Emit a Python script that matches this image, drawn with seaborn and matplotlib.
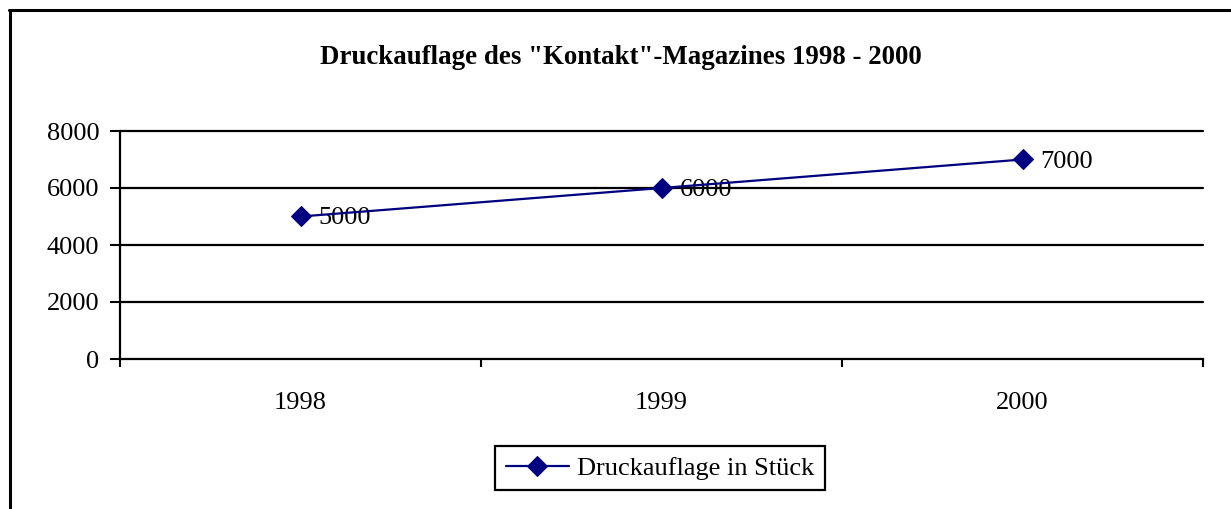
import pandas as pd
import matplotlib.pyplot as plt
import seaborn as sns
from matplotlib.lines import Line2D

#Chart data
years = ["1998", "1999", "2000"]
auflage = [5000, 6000, 7000]
series_name = "Druckauflage in Stück"
y_ticks = [0, 2000, 4000, 6000, 8000]

df = pd.DataFrame({"Jahr": years, "Auflage": auflage})

sns.set_style("white")
plt.rcParams['font.family'] = ['Liberation Serif', 'DejaVu Serif']
plt.rcParams['text.color'] = 'black'
plt.rcParams['xtick.color'] = 'black'
plt.rcParams['ytick.color'] = 'black'

W, H = 1231, 509
fig = plt.figure(figsize=(W / 100, H / 100), dpi=100)
ax = fig.add_axes([120 / W, 1 - 359 / H, 1083 / W, 228 / H])

x_pos = list(range(len(years)))
df["x"] = x_pos
sns.lineplot(data=df, x="x", y="Auflage", ax=ax, color="#000080", lw=1.6,
             marker="D", markersize=10, markeredgecolor="#000080", label=series_name, zorder=5)

#data labels
for xv, yv in zip(x_pos, auflage):
    ax.annotate(str(yv), (xv, yv), xytext=(18, -2), textcoords="offset pixels",
                ha="left", va="center", fontsize=19, color="black")

ax.set_xlim(-0.5, len(years) - 0.5)
ax.set_ylim(0, 8000)
ax.set_yticks(y_ticks)
ax.set_yticklabels([str(t) for t in y_ticks], fontsize=19)
ax.set_xticks(x_pos)
ax.set_xticklabels(years, fontsize=19)
ax.set_xticks([i - 0.5 for i in range(len(years) + 1)], minor=True)
ax.tick_params(axis="x", which="major", length=0, pad=24, labelcolor="black")
ax.tick_params(axis="x", which="minor", length=6, width=1.5, direction="out", color="black", bottom=True)
ax.tick_params(axis="y", which="major", length=7, width=1.5, direction="out", color="black", pad=8, left=True,
               labelcolor="black")
ax.set_xlabel("")
ax.set_ylabel("")

ax.grid(False)
for t in y_ticks[1:]:
    ax.axhline(t, color="black", lw=1.6, zorder=0, clip_on=False)
for s in ["top", "right"]:
    ax.spines[s].set_visible(False)
for s in ["left", "bottom"]:
    ax.spines[s].set_color("black")
    ax.spines[s].set_linewidth(1.6)

fig.text(621 / W, 1 - 57 / H, 'Druckauflage des "Kontakt"-Magazines 1998 - 2000',
         ha="center", va="center", fontsize=19.4, fontweight="bold", color="black")

leg = ax.legend(loc="center", bbox_to_anchor=(660 / W, 1 - 468 / H), bbox_transform=fig.transFigure,
                fontsize=19, frameon=True, fancybox=False, edgecolor="black", framealpha=1,
                handlelength=2.4, borderpad=0.4, handletextpad=0.3, labelcolor="black")
leg.get_frame().set_linewidth(1.6)

#outer chart border (clipped on right and bottom)
fig.add_artist(Line2D([10 / W, 10 / W], [0, 1 - 10 / H], color="black", lw=2.2, transform=fig.transFigure))
fig.add_artist(Line2D([9 / W, 1], [1 - 10 / H, 1 - 10 / H], color="black", lw=2.2, transform=fig.transFigure))

plt.savefig("out.png", dpi=100)
